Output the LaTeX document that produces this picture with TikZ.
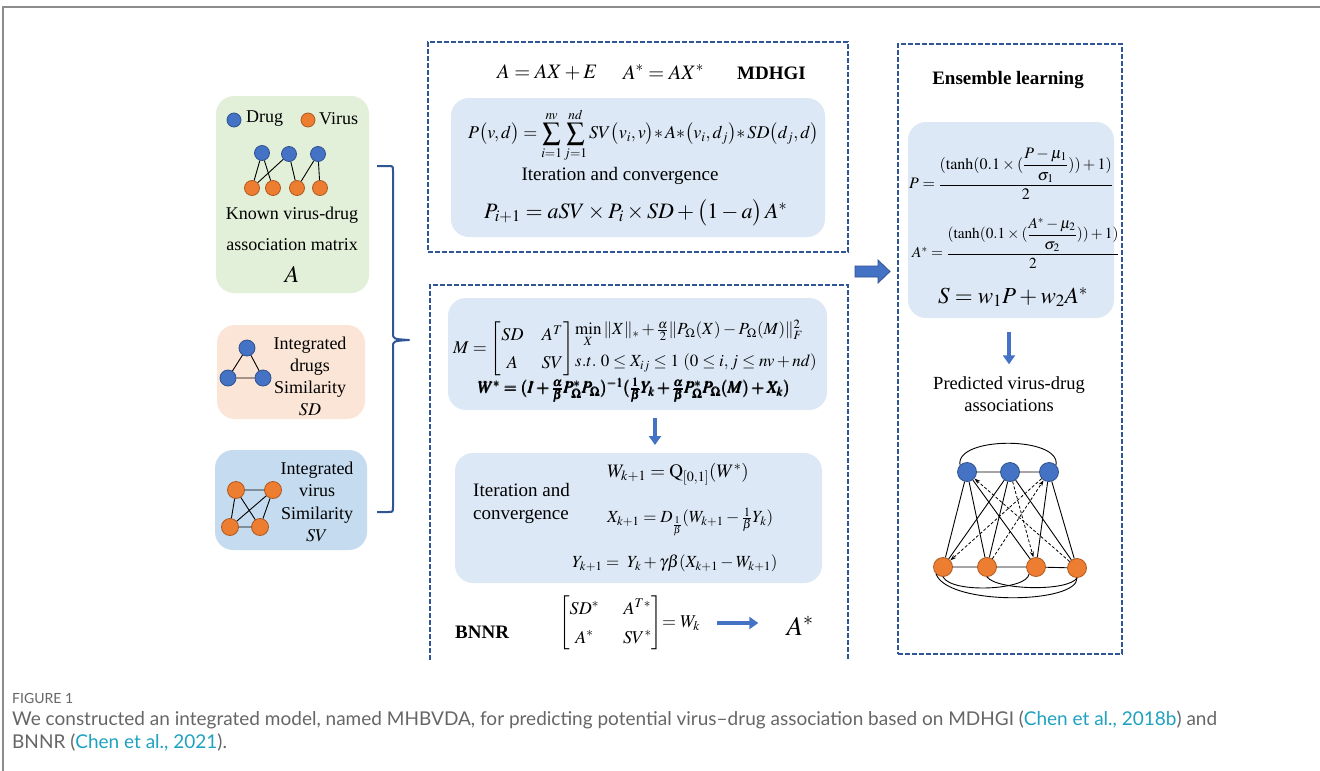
\documentclass[tikz,border=0pt]{standalone}
\usepackage{amsmath}
\usepackage{mathptmx}
\usepackage[no-math]{fontspec}
\setmainfont{Liberation Serif}
\newfontfamily\capfont{Lato}
\usetikzlibrary{arrows.meta,fit}

\definecolor{dblue}{HTML}{2F5597}
\definecolor{arrowblue}{HTML}{4472C4}
\definecolor{drugfill}{HTML}{4472C4}
\definecolor{drugedge}{HTML}{2F528F}
\definecolor{virusfill}{HTML}{ED7D31}
\definecolor{virusedge}{HTML}{AE5A21}
\definecolor{greenfill}{HTML}{E2F0D9}
\definecolor{peachfill}{HTML}{FBE5D6}
\definecolor{sidefill}{HTML}{C5DCF0}
\definecolor{panelfill}{HTML}{DCE8F5}
\definecolor{framegray}{HTML}{8C8C8C}
\definecolor{capgray}{HTML}{666666}
\definecolor{citeblue}{HTML}{1FA2C0}

\newcommand\fsz[2]{\fontsize{#1}{#2}\selectfont}

\tikzset{
  dashbox/.style={draw=dblue, line width=2pt, dash pattern=on 5pt off 2pt},
  softbox/.style={rounded corners=18pt, inner sep=0pt, outer sep=0pt},
  drugnode/.style={circle, draw=drugedge, fill=drugfill, line width=0.8pt, minimum size=#1, inner sep=0pt},
  drugnode/.default=15pt,
  virusnode/.style={circle, draw=virusedge, fill=virusfill, line width=0.8pt, minimum size=#1, inner sep=0pt},
  virusnode/.default=15pt,
  gedge/.style={line width=0.9pt, black},
  dedge/.style={line width=0.8pt, black, dash pattern=on 3pt off 2pt, -{Stealth[length=6pt,width=4pt]}},
  flatarrow/.style={draw=arrowblue, line width=4.5pt, -{Triangle[length=9pt,width=12pt]}},
  bracestyle/.style={draw=dblue, line width=2pt, line join=round},
  serif/.style={font=\fsz{18}{22}},
}

\begin{document}
\begin{tikzpicture}[x=1pt,y=-1pt,every node/.style={inner sep=0pt}]
\useasboundingbox (0,0) rectangle (1320,771);
\fill[white] (0,0) rectangle (1320,771);
\draw[framegray, line width=1.5pt] (3,771) -- (3,7) -- (1320,7);

% ---------- input panels ----------
\node[softbox, fill=greenfill, fit={(216,96) (369,293)}] (known) {};
\node[softbox, fill=peachfill, fit={(217,325) (365,419)}] (sdpanel) {};
\node[softbox, fill=sidefill, fit={(215,450) (367,550)}] (svpanel) {};

% legend
\node[drugnode=14pt] (legdrug) at (234,120) {};
\node[serif, anchor=west] (legdrugtxt) at (246,119) {Drug};
\node[virusnode=14pt] (legvirus) at (308,120) {};
\node[serif, anchor=west] (legvirustxt) at (319,119) {Virus};

% bipartite sketch
\node[drugnode] (kb1) at (262,153) {};
\node[drugnode] (kb2) at (289,154) {};
\node[drugnode] (kb3) at (318,154) {};
\node[virusnode] (ko1) at (252,188) {};
\node[virusnode] (ko2) at (273,188) {};
\node[virusnode] (ko3) at (297,188) {};
\node[virusnode] (ko4) at (320,188) {};
\draw[gedge] (kb1)--(ko1) (kb1)--(ko2) (kb2)--(ko1) (kb2)--(ko3) (kb3)--(ko3) (kb3)--(ko4);

\node[serif] (knowntxt1) at (292,215) {Known virus-drug};
\node[serif] (knowntxt2) at (292,245) {association matrix};
\node[font=\fsz{24}{28}] (knownA) at (292,274) {$A$};

% drug similarity
\node[drugnode=16pt] (sd1) at (247,348) {};
\node[drugnode=16pt] (sd2) at (228,378) {};
\node[drugnode=16pt] (sd3) at (263,378) {};
\draw[gedge] (sd1)--(sd2) (sd2)--(sd3) (sd3)--(sd1);
\node[serif, align=center, font=\fsz{18}{22}] (sdtxt) at (310,376) {Integrated\\drugs\\Similarity\\$SD$};

% virus similarity
\node[virusnode=17pt] (sv1) at (236,490) {};
\node[virusnode=17pt] (sv2) at (273,490) {};
\node[virusnode=17pt] (sv3) at (230,527) {};
\node[virusnode=17pt] (sv4) at (260,527) {};
\draw[gedge] (sv1)--(sv2) (sv1)--(sv3) (sv1)--(sv4) (sv2)--(sv3) (sv2)--(sv4) (sv3)--(sv4);
\node[serif, align=center, font=\fsz{18}{22.5}] (svtxt) at (317,502) {Integrated\\virus\\Similarity\\$SV$};

% brace gathering the inputs
\coordinate (brtop) at (377,166);
\coordinate (brtip) at (409,340);
\coordinate (brbot) at (377,512);
\draw[bracestyle] (brtop) -- (388,166) .. controls (393,166) .. (393,171) -- (393,333)
  .. controls (393,339) .. (brtip) .. controls (393,341) .. (393,347) -- (393,507)
  .. controls (393,512) .. (388,512) -- (brbot);

% ---------- MDHGI ----------
\node[dashbox, fit={(428,42) (848,252)}] (mdbox) {};
\node[anchor=west, font=\fsz{20.5}{24}] (mdeq1) at (497,72) {$A = AX + E$};
\node[anchor=west, font=\fsz{20.5}{24}] (mdeq2) at (623,72) {$A^{*} = AX^{*}$};
\node[anchor=west, font=\fsz{19}{24}\bfseries] (mdhgi) at (737,73) {MDHGI};

\node[softbox, fill=panelfill, fit={(451,98) (825,237)}] (mdpanel) {};
\node[anchor=west, font=\fsz{18}{24}] (pvd) at (468,135)
  {$\displaystyle P\big(v,d\big)=\sum_{i=1}^{nv}\sum_{j=1}^{nd}SV\big(v_{i},v\big){*}\,A{*}\big(v_{i},d_{j}\big){*}\,SD\big(d_{j},d\big)$};
\node[font=\fsz{19}{22}] (mditer) at (620,176) {Iteration and convergence};
\node[anchor=west, font=\fsz{22}{24}] (pnext) at (484,213)
  {$P_{i+1} = aSV \times P_{i} \times SD + \big(1-a\big)\,A^{*}$};

% ---------- BNNR ----------
\coordinate (bnbl) at (430,660);
\coordinate (bnbr) at (848,660);
\draw[dashbox] (bnbl) -- (430,285) -- (848,285) -- (bnbr);

\node[softbox, fill=panelfill, fit={(448,298) (827,410)}] (bnpanel1) {};
\node[anchor=west, font=\fsz{18}{22}] (mmat) at (453,349)
  {$M =\setlength\arraycolsep{9pt}\renewcommand\arraystretch{1.25}\begin{bmatrix} SD & A^{T} \\ A & SV \end{bmatrix}$};
\node[anchor=west, font=\fsz{17}{22}] (minobj) at (575,334)
  {$\min\limits_{X}\|X\|_{*} + \tfrac{\alpha}{2}\|P_{\Omega}(X)-P_{\Omega}(M)\|_{F}^{2}$};
\node[anchor=west, font=\fsz{17}{22}] (stc) at (575,363)
  {$s.t.\ 0\le X_{ij}\le 1\ (0\le i,j\le nv+nd)$};
\node[anchor=west, font=\fsz{17}{22}] (wstar) at (478,390)
  {$\pmb{W^{*} = (I+\tfrac{\alpha}{\beta}P_{\Omega}^{*}P_{\Omega})^{-1}(\tfrac{1}{\beta}Y_{k}+\tfrac{\alpha}{\beta}P_{\Omega}^{*}P_{\Omega}(M)+X_{k})}$};

\node[softbox, fill=panelfill, fit={(455,453) (822,583)}] (bnpanel2) {};
\draw[flatarrow, shorten <=8pt, shorten >=8pt] (bnpanel1.south -| 655,0) -- (bnpanel2.north -| 655,0);
\node[anchor=west, align=left, font=\fsz{19}{23}] (bniter) at (473,503) {Iteration and\\convergence};
\node[anchor=west, font=\fsz{19}{24}] (wk1) at (607,474) {$W_{k+1} = \mathrm{Q}_{[0,1]}(W^{*})$};
\node[anchor=west, font=\fsz{17}{24}] (xk1) at (607,522) {$X_{k+1}= D_{\frac{1}{\beta}}(W_{k+1}-\tfrac{1}{\beta}Y_{k})$};
\node[anchor=west, font=\fsz{17}{24}] (yk1) at (572,563) {$Y_{k+1} =\ Y_{k}+\gamma\beta(X_{k+1}-W_{k+1})$};

\node[anchor=west, font=\fsz{19}{24}\bfseries] (bnnr) at (455,632) {BNNR};
\node[anchor=west, font=\fsz{18}{22}] (wkmat) at (559,623)
  {$\setlength\arraycolsep{12pt}\renewcommand\arraystretch{1.3}\begin{bmatrix} SD^{*} & A^{T*} \\ A^{*} & SV^{*}\end{bmatrix}\!\!=W_{k}$};
\node[font=\fsz{27}{30}] (bnastar) at (800,626) {$A^{*}$};
\draw[flatarrow, shorten <=17pt, shorten >=28pt] (wkmat.east) -- (wkmat.east -| bnastar.west);

% ---------- hand-over arrow ----------
\filldraw[fill=arrowblue, draw=drugedge, line width=0.8pt]
  (855,266) -- (878,266) -- (878,260) -- (890,271.5) -- (878,283) -- (878,277) -- (855,277) -- cycle;

% ---------- ensemble learning ----------
\node[dashbox, fit={(898,44) (1122,654)}] (ensbox) {};
\node[font=\fsz{19}{24}\bfseries] (enstitle) at (1008,80) {Ensemble learning};
\node[softbox, fill=panelfill, fit={(908,122) (1114,318)}] (enspanel) {};
\node[anchor=west, font=\fsz{16}{20}] (pens) at (909,174)
  {$P = \dfrac{(\tanh(0.1\times(\dfrac{P-\mu_{1}}{\sigma_{1}}))+1)}{2}$};
\node[anchor=west, font=\fsz{15.3}{20}] (aens) at (912,243)
  {$A^{*} = \dfrac{(\tanh(0.1\times(\dfrac{A^{*}-\mu_{2}}{\sigma_{2}}))+1)}{2}$};
\node[font=\fsz{23}{26}] (sens) at (1013,297) {$S = w_{1}P + w_{2}A^{*}$};

\node[align=center, font=\fsz{18.5}{22}] (pred) at (1009,394) {Predicted virus-drug\\associations};
\draw[flatarrow, shorten <=14pt, shorten >=12pt] (enspanel.south -| pred.north) -- (pred.north);

% predicted association network
\node[drugnode=19pt] (pb1) at (967,472) {};
\node[drugnode=19pt] (pb2) at (1010,472) {};
\node[drugnode=19pt] (pb3) at (1049,472) {};
\node[virusnode=19pt] (po1) at (943,567) {};
\node[virusnode=19pt] (po2) at (987,567) {};
\node[virusnode=19pt] (po3) at (1036,567) {};
\node[virusnode=19pt] (po4) at (1077,568) {};
\draw[gedge] (pb1)--(pb2) (pb2)--(pb3) (po1)--(po2) (po2)--(po3) (po3)--(po4);
\draw[gedge] (pb1.north west) .. controls (955,436) and (1061,436) .. (pb3.north east);
\draw[gedge] (po1.south) .. controls (952,594) and (1028,590) .. (po3.south west);
\draw[gedge] (po2.south) .. controls (996,590) and (1068,592) .. (po4.south);
\draw[gedge] (po1.south west) .. controls (948,606) and (1078,604) .. (po4.south);
\draw[gedge] (pb1)--(po1) (pb1)--(po2) (pb1)--(po3) (pb2)--(po1) (pb2)--(po2) (pb2)--(po4)
  (pb3)--(po3) (pb3)--(po4);
\draw[dedge] (po4) -- (pb1);
\draw[dedge] (pb2) -- (po3);
\draw[dedge] (pb3) -- (po1);
\draw[dedge] (po2) -- (pb3);

% ---------- caption ----------
\node[anchor=west, font=\capfont\fsz{14}{16}, text=capgray] (figlabel) at (12,698) {FIGURE 1};
\node[anchor=north west, align=left, font=\capfont\fsz{19}{23}, text=capgray] (figcap) at (12,711)
  {We constructed an integrated model, named MHBVDA, for predicting potential virus–drug association based on MDHGI (\textcolor{citeblue}{Chen et al., 2018b}) and\\
   BNNR (\textcolor{citeblue}{Chen et al., 2021}).};
\end{tikzpicture}
\end{document}
